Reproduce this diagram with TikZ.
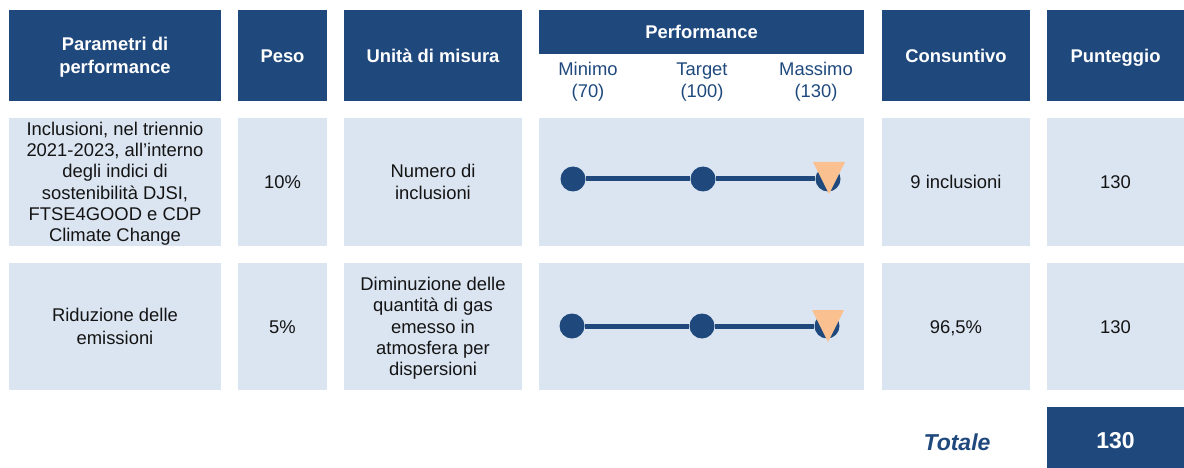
\documentclass[tikz,border=0pt]{standalone}
\usepackage{fontspec}
\setmainfont{Liberation Sans}
\definecolor{dk}{RGB}{31,73,125}
\definecolor{lt}{RGB}{219,229,241}
\definecolor{orng}{RGB}{250,192,144}
\definecolor{txt}{RGB}{20,20,20}
\newcommand{\vstrut}{\rule[-4.2pt]{0pt}{21.6pt}}
\newcommand{\cellbox}[7]{%
  \node[#6, minimum width={(#4-#2)*1pt}, minimum height={(#5-#3)*1pt}] (#1) at ({(#2+#4)/2},{(#3+#5)/2}) {\vstrut#7\vstrut};}
\begin{document}
\begin{tikzpicture}[x=1pt,y=-1pt,
  base/.style={inner sep=0pt, outer sep=0pt, align=center, draw=none},
  hcell/.style={base, fill=dk, text=white, font=\fontsize{18.4}{21.5}\selectfont\bfseries},
  bcell/.style={base, fill=lt, text=txt, font=\fontsize{18.4}{21.3}\selectfont},
  lbl/.style={base, text=dk, font=\fontsize{18.4}{21}\selectfont},
  dot/.style={circle, fill=dk, inner sep=0pt, minimum size=25pt},
  bar/.style={draw=dk, line width=5pt},
  tri/.style={fill=orng}]
\useasboundingbox (0,0) rectangle (1184,468);
% header
\cellbox{h1}{9}{10}{221}{101}{hcell}{Parametri di\\performance}
\cellbox{h2}{238}{10}{327}{101}{hcell}{Peso}
\cellbox{h3}{344}{10}{522}{101}{hcell}{Unità di misura}
\cellbox{h4}{539}{10}{864}{54}{hcell}{Performance}
\cellbox{h5}{882}{10}{1030}{101}{hcell}{Consuntivo}
\cellbox{h6}{1047}{10}{1184}{101}{hcell}{Punteggio}
\node[lbl] (lmin) at (588,80) {\vstrut Minimo\\(70)\vstrut};
\node[lbl] (ltar) at (702,80) {\vstrut Target\\(100)\vstrut};
\node[lbl] (lmax) at (816,80) {\vstrut Massimo\\(130)\vstrut};
% row 1
\cellbox{a1}{9}{118}{221}{246}{bcell}{Inclusioni, nel triennio\\2021-2023, all’interno\\degli indici di\\sostenibilità DJSI,\\FTSE4GOOD e CDP\\Climate Change}
\cellbox{a2}{238}{118}{327}{246}{bcell}{10\%}
\cellbox{a3}{344}{118}{522}{246}{bcell}{Numero di\\inclusioni}
\cellbox{a4}{539}{118}{864}{246}{bcell}{}
\cellbox{a5}{882}{118}{1030}{246}{bcell}{9 inclusioni}
\cellbox{a6}{1047}{118}{1184}{246}{bcell}{130}
% row 2
\cellbox{b1}{9}{263}{221}{390}{bcell}{Riduzione delle\\emissioni}
\cellbox{b2}{238}{263}{327}{390}{bcell}{5\%}
\cellbox{b3}{344}{263}{522}{390}{bcell}{Diminuzione delle\\quantità di gas\\emesso in\\atmosfera per\\dispersioni}
\cellbox{b4}{539}{263}{864}{390}{bcell}{}
\cellbox{b5}{882}{263}{1030}{390}{bcell}{96,5\%}
\cellbox{b6}{1047}{263}{1184}{390}{bcell}{130}
% total
\node[base, text=dk, font=\fontsize{23}{26}\selectfont\bfseries\itshape] (tot) at (957,442) {Totale};
\cellbox{t6}{1047}{407}{1184}{477}{hcell, font=\fontsize{23}{26}\selectfont\bfseries}{130}
% sliders row 1
\node[dot] (p11) at (573,179) {};
\node[dot] (p12) at (703,179) {};
\node[dot] (p13) at (828,179) {};
\draw[bar] (p11) -- (p12);
\draw[bar] (p12) -- (p13);
\coordinate (m1) at (829,162);
\fill[tri] (m1) ++(-16,0) -- ++(32,0) -- ++(-16,32) -- cycle;
% sliders row 2
\node[dot] (p21) at (572,326) {};
\node[dot] (p22) at (702,326) {};
\node[dot] (p23) at (827,326) {};
\draw[bar] (p21) -- (p22);
\draw[bar] (p22) -- (p23);
\coordinate (m2) at (828,310);
\fill[tri] (m2) ++(-16,0) -- ++(32,0) -- ++(-16,32) -- cycle;
\end{tikzpicture}
\end{document}
